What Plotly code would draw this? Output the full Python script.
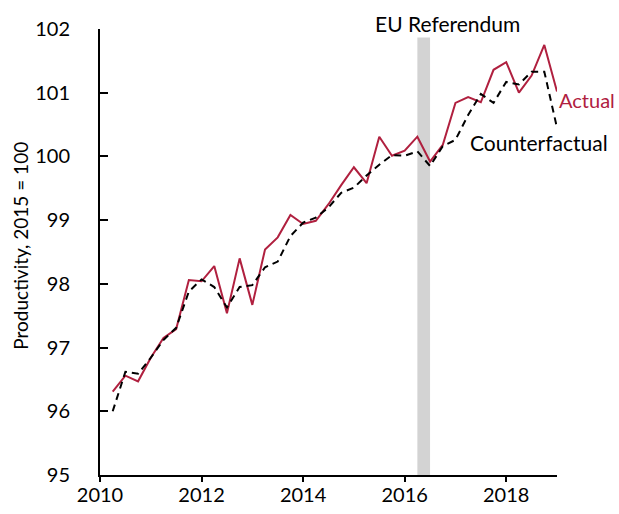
import plotly.graph_objects as go

# Quarterly periods, 2010Q1 to 2018Q4
years = [2010, 2011, 2012, 2013, 2014, 2015, 2016, 2017, 2018]
quarters = [f"{y}Q{q}" for y in years for q in (1, 2, 3, 4)]

actual = [
    96.31, 96.56, 96.47, 96.84,
    97.15, 97.29, 98.06, 98.04,
    98.28, 97.54, 98.40, 97.67,
    98.54, 98.73, 99.08, 98.94,
    98.99, 99.25, 99.55, 99.83,
    99.58, 100.31, 100.01, 100.09,
    100.31, 99.92, 100.18, 100.84,
    100.93, 100.85, 101.36, 101.48,
    101.00, 101.27, 101.75, 101.02,
]

counterfactual = [
    96.00, 96.62, 96.59, 96.84,
    97.12, 97.31, 97.88, 98.07,
    97.95, 97.63, 97.95, 97.98,
    98.26, 98.35, 98.75, 98.96,
    99.04, 99.20, 99.43, 99.51,
    99.70, 99.87, 100.02, 100.01,
    100.08, 99.85, 100.16, 100.26,
    100.65, 100.98, 100.84, 101.17,
    101.13, 101.33, 101.33, 100.45,
]

x_tick_vals = [2010, 2012, 2014, 2016, 2018]
y_tick_vals = [95, 96, 97, 98, 99, 100, 101, 102]
referendum_start, referendum_end = 2016.25, 2016.5

# quarter-end position as decimal year
x_pos = [int(q[:4]) + int(q[-1]) / 4 for q in quarters]

RED = "#B0203F"
FONT = "Lato"

fig = go.Figure()
fig.add_vrect(x0=referendum_start, x1=referendum_end, fillcolor="#D3D3D3",
              opacity=1, line_width=0, layer="below")

fig.add_trace(go.Scatter(x=x_pos, y=actual, mode="lines", name="Actual",
                         line=dict(color=RED, width=2)))
fig.add_trace(go.Scatter(x=x_pos, y=counterfactual, mode="lines", name="Counterfactual",
                         line=dict(color="black", width=2, dash="7px,5px")))

fig.update_layout(
    width=619, height=514,
    margin=dict(l=100, r=62, t=29, b=39, autoexpand=False),
    plot_bgcolor="white", paper_bgcolor="white",
    showlegend=False,
    font=dict(family=FONT, size=20, color="black"),
    xaxis=dict(range=[2010, 2019], tickvals=x_tick_vals,
               ticktext=[str(v) for v in x_tick_vals],
               showline=True, linecolor="black", linewidth=2,
               ticks="outside", ticklen=5, tickwidth=2, tickcolor="black",
               showgrid=False, zeroline=False, automargin=False,
               ticklabelstandoff=-4,
               tickfont=dict(family=FONT, size=20)),
    yaxis=dict(range=[95, 102], tickvals=y_tick_vals,
               showline=True, linecolor="black", linewidth=2,
               ticks="inside", ticklen=8, tickwidth=2, tickcolor="black",
               showgrid=False, zeroline=False, ticklabelstandoff=24,
               automargin=False,
               tickfont=dict(family=FONT, size=20)),
    annotations=[
        dict(text="EU Referendum", x=2016.85, y=1.012, xref="x", yref="paper",
             showarrow=False, xanchor="center", yanchor="middle",
             bgcolor="white", font=dict(family=FONT, size=21, color="black")),
        dict(text="Actual", x=1.0, y=100.89, xref="paper", yref="y",
             showarrow=False, xanchor="left", yanchor="middle",
             font=dict(family=FONT, size=20, color=RED)),
        dict(text="Counterfactual", x=2017.25, y=100.22, xref="x", yref="y",
             showarrow=False, xanchor="left", yanchor="middle",
             font=dict(family=FONT, size=21, color="black")),
        dict(text="Productivity, 2015 = 100", x=-0.173, y=0.514,
             xref="paper", yref="paper", showarrow=False, textangle=-90,
             xanchor="center", yanchor="middle",
             font=dict(family=FONT, size=19, color="black")),
    ],
)

# remove the browser's default 8px page margin so the figure fills the window
fig.write_html("out.html", config={"displayModeBar": False},
               post_script="document.body.style.margin='0';")
